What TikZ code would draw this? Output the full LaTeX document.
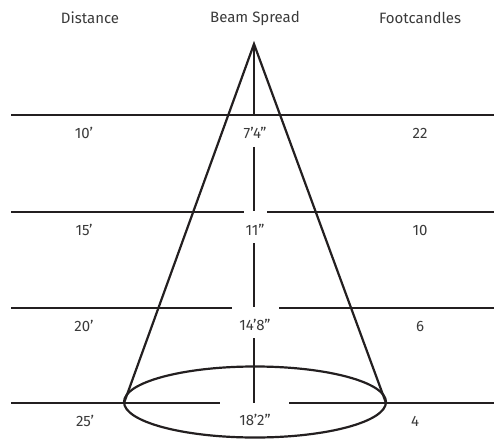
\documentclass[tikz,border=0pt]{standalone}
\usepackage{fontspec}
\setmainfont{Fira Sans}
\definecolor{ink}{HTML}{231F20}
\definecolor{txt}{HTML}{3A3A3A}
\begin{document}
\begin{tikzpicture}[x=1pt,y=-1pt,
  ln/.style={draw=ink,line width=2.2pt},
  lbl/.style={text=txt,font=\fontsize{15}{17}\selectfont,inner sep=0pt,anchor=center}]
\useasboundingbox (0,0) rectangle (494,438);
% headers
\node[lbl] (hd) at (90,18) {Distance};
\node[lbl] (hb) at (255,18) {Beam Spread};
\node[lbl] (hf) at (420,18) {Footcandles};
% key points
\coordinate (apex) at (254,44);
\coordinate (bl) at (124,403);
\coordinate (br) at (386,403);
% horizontal lines
\coordinate (l1a) at (11,115); \coordinate (l1b) at (494,115);
\coordinate (l2a) at (11,212); \coordinate (l2b) at (244,212);
\coordinate (l2c) at (267,212); \coordinate (l2d) at (494,212);
\coordinate (l3a) at (11,308); \coordinate (l3b) at (232,308);
\coordinate (l3c) at (279,308); \coordinate (l3d) at (494,308);
\coordinate (l4a) at (11,403); \coordinate (l4b) at (220,403);
\coordinate (l4c) at (289,403); \coordinate (l4d) at (494,403);
\draw[ln] (l1a) -- (l1b);
\draw[ln] (l2a) -- (l2b); \draw[ln] (l2c) -- (l2d);
\draw[ln] (l3a) -- (l3b); \draw[ln] (l3c) -- (l3d);
\draw[ln] (l4a) -- (l4b); \draw[ln] (l4c) -- (l4d);
% vertical centre line segments
\coordinate (v1b) at (254,115);
\coordinate (v2a) at (254,147); \coordinate (v2b) at (254,211);
\coordinate (v3a) at (254,243); \coordinate (v3b) at (254,307);
\coordinate (v4a) at (254,338); \coordinate (v4b) at (254,403);
\draw[ln] (apex) -- (v1b);
\draw[ln] (v2a) -- (v2b);
\draw[ln] (v3a) -- (v3b);
\draw[ln] (v4a) -- (v4b);
% cone
\draw[ln,line join=miter] (bl) -- (apex) -- (br);
\draw[ln] (255,402) ellipse [x radius=131, y radius=35.5];
% labels
\node[lbl] (d1) at (84,133) {10’};
\node[lbl] (b1) at (255,133) {7’4”};
\node[lbl] (f1) at (420,133) {22};
\node[lbl] (d2) at (84,230) {15’};
\node[lbl] (b2) at (255,230) {11”};
\node[lbl] (f2) at (420,230) {10};
\node[lbl] (d3) at (84,326) {20’};
\node[lbl] (b3) at (255,325) {14’8”};
\node[lbl] (f3) at (420,326) {6};
\node[lbl] (d4) at (85,421) {25’};
\node[lbl] (b4) at (255,420) {18’2”};
\node[lbl] (f4) at (415,421) {4};
\end{tikzpicture}
\end{document}
